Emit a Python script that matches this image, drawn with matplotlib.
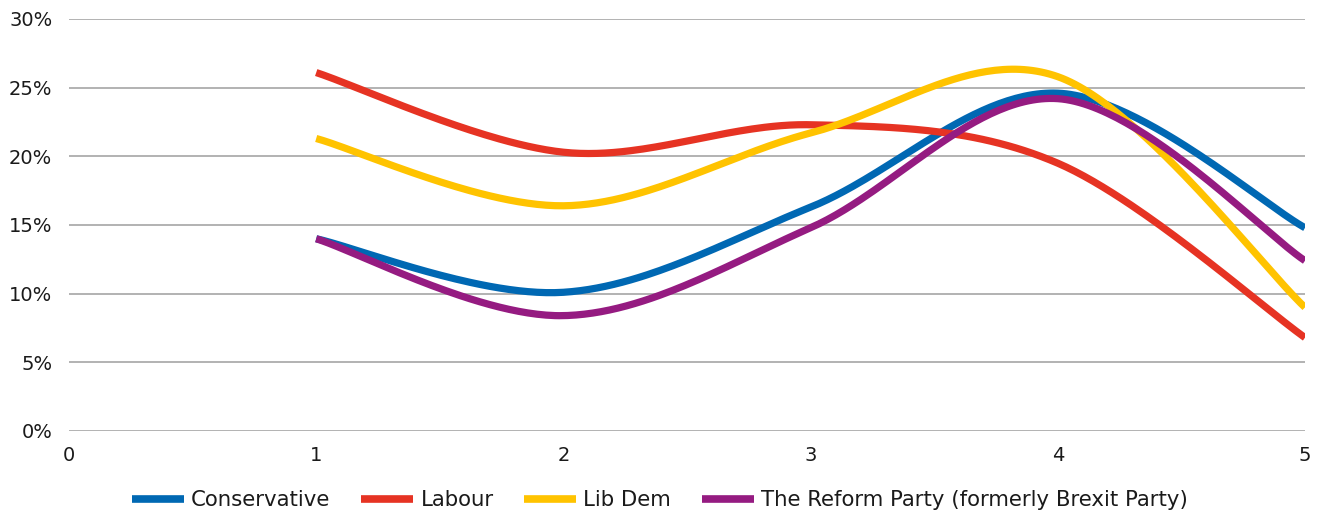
import numpy as np
import matplotlib
matplotlib.use("Agg")
import matplotlib.pyplot as plt
from matplotlib.ticker import FuncFormatter

x_vals = [1, 2, 3, 4, 5]
series_names = ["Conservative", "Labour", "Lib Dem", "The Reform Party (formerly Brexit Party)"]
conservative = [14.0, 10.1, 16.3, 24.6, 14.8]
labour = [26.1, 20.3, 22.3, 19.5, 6.8]
lib_dem = [21.3, 16.4, 21.7, 25.8, 9.0]
reform = [14.0, 8.4, 14.8, 24.2, 12.4]
colors = ["#0068b3", "#e63323", "#ffc300", "#951b81"]
y_ticks = [0, 5, 10, 15, 20, 25, 30]
x_ticks = [0, 1, 2, 3, 4, 5]

plt.rcParams['font.family'] = ['DejaVu Sans']


def smooth(xs, ys, n=60):
    xs = np.asarray(xs, float)
    ys = np.asarray(ys, float)
    P = np.column_stack([xs, ys])
    out = []
    for i in range(len(P) - 1):
        p0 = P[i]
        p3 = P[i + 1]
        pm = P[i - 1] if i > 0 else P[i]
        pp = P[i + 2] if i + 2 < len(P) else P[i + 1]
        c1 = p0 + (p3 - pm) / 6.0
        c2 = p3 - (pp - p0) / 6.0
        t = np.linspace(0, 1, n)[:, None]
        b = ((1 - t) ** 3) * p0 + 3 * ((1 - t) ** 2) * t * c1 + 3 * (1 - t) * t ** 2 * c2 + t ** 3 * p3
        out.append(b if i == 0 else b[1:])
    arr = np.vstack(out)
    return arr[:, 0], arr[:, 1]


fig = plt.figure(figsize=(13.2, 5.13), dpi=100)
ax = fig.add_axes([69 / 1320, 1 - 431 / 513, (1305 - 69) / 1320, (431 - 19) / 513])

for name, vals, c in zip(series_names, [conservative, labour, lib_dem, reform], colors):
    sx, sy = smooth(x_vals, vals)
    ax.plot(sx, sy, color=c, lw=5.2, label=name, solid_capstyle='butt', zorder=3)

ax.set_xlim(0, 5)
ax.set_ylim(0, 30)
ax.set_yticks(y_ticks)
ax.set_xticks(x_ticks)
ax.yaxis.set_major_formatter(FuncFormatter(lambda v, p: f"{int(v)}%"))
ax.grid(axis='y', color='#adadad', lw=1.3, zorder=0)
ax.tick_params(axis='both', length=0, labelsize=14, colors='#1a1a1a')
ax.tick_params(axis='y', pad=12)
ax.tick_params(axis='x', pad=11)
for s in ax.spines.values():
    s.set_visible(False)

leg = fig.legend(loc='center', bbox_to_anchor=(0.5, 1 - 500 / 513), ncol=4, frameon=False,
                 fontsize=15.3, handlelength=2.45, columnspacing=1.45, handletextpad=0.33)
for text in leg.get_texts():
    text.set_color('#1a1a1a')
for line in leg.get_lines():
    line.set_linewidth(5.5)

fig.savefig("out.png", dpi=100)
